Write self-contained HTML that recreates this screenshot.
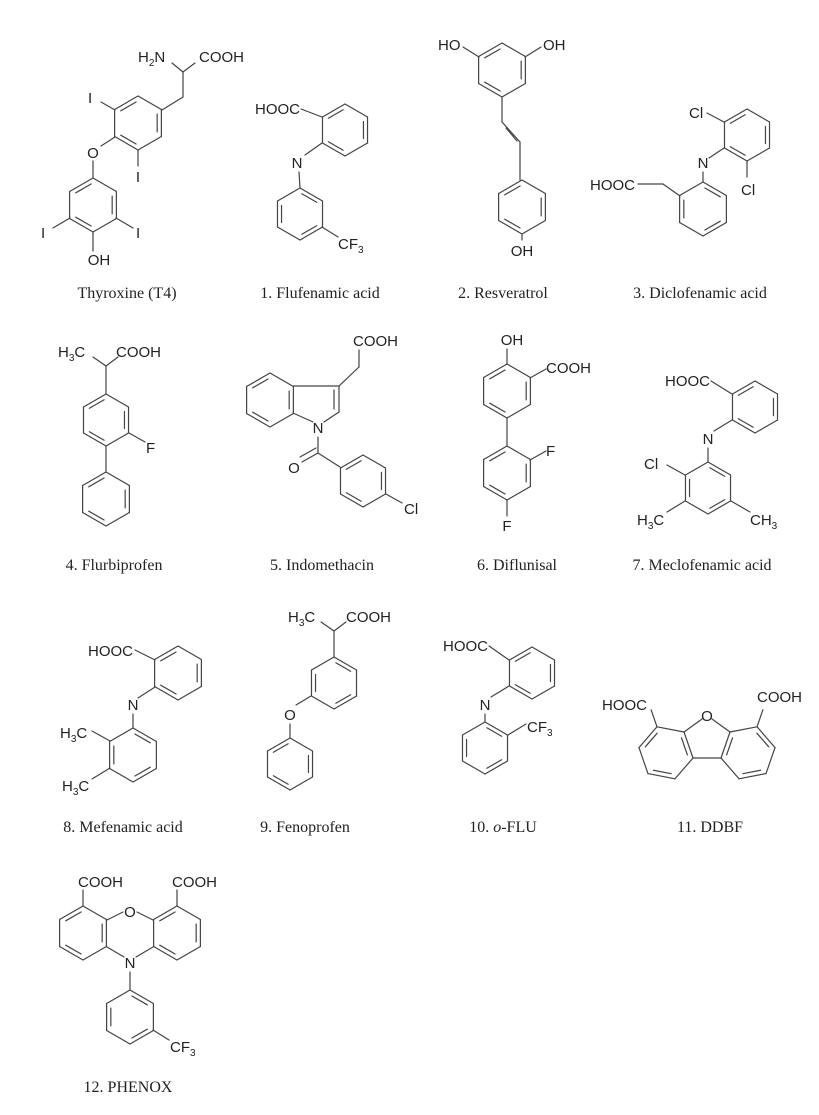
<!DOCTYPE html>
<html><head><meta charset="utf-8">
<style>
html,body{margin:0;padding:0;background:#fff;}
svg{display:block;}
.a{font-family:"Liberation Sans",Arial,sans-serif;font-size:15px;fill:#222;}
.l{font-family:"Liberation Serif","Times New Roman",serif;font-size:16px;fill:#222;}
</style></head>
<body>
<svg id="s" width="819" height="1115" viewBox="0 0 819 1115" xmlns="http://www.w3.org/2000/svg">
<g id="g" stroke="#444" stroke-width="1.2" fill="none" stroke-linecap="round"></g>
<g id="t"></g>
</svg>
<script>
var G="",T="";
function L(a,b,c,d){G+='<line x1="'+a+'" y1="'+b+'" x2="'+c+'" y2="'+d+'"/>';}
function inner(p1,p2,c){
  var q1=[c[0]+(p1[0]-c[0])*0.82,c[1]+(p1[1]-c[1])*0.82];
  var q2=[c[0]+(p2[0]-c[0])*0.82,c[1]+(p2[1]-c[1])*0.82];
  var r1=[q1[0]+(q2[0]-q1[0])*0.1,q1[1]+(q2[1]-q1[1])*0.1];
  var r2=[q2[0]+(q1[0]-q2[0])*0.1,q2[1]+(q1[1]-q2[1])*0.1];
  L(r1[0],r1[1],r2[0],r2[1]);
}
function poly(v,c,dbl,skip){
  skip=skip||[];
  for(var i=0;i<v.length;i++){var j=(i+1)%v.length;if(skip.indexOf(i)<0)L(v[i][0],v[i][1],v[j][0],v[j][1]);}
  dbl.forEach(function(i){inner(v[i],v[(i+1)%v.length],c);});
}
function hex(cx,cy,r,dbl,skip){
  var v=[];for(var i=0;i<6;i++){var a=(-90+60*i)*Math.PI/180;v.push([cx+r*Math.cos(a),cy+r*Math.sin(a)]);}
  poly(v,[cx,cy],dbl,skip);return v;
}
function S(n){return '<tspan font-size="10" dy="4">'+n+'</tspan><tspan dy="-4">';}
function A(x,y,s,anc){T+='<text class="a" x="'+x+'" y="'+y+'" text-anchor="'+(anc||'start')+'">'+s+'</text>';}
function Lb(x,y,s){T+='<text class="l" x="'+x+'" y="'+y+'" text-anchor="middle">'+s+'</text>';}
var H2N='H'+S(2)+'N</tspan>', H3C='H'+S(3)+'C</tspan>', CH3='CH'+S(3)+'</tspan>', CF3='CF'+S(3)+'</tspan>';

hex(138,123,27,[5,1,3]);
L(162,110,183,97);L(183,97,183,72);L(183,72,172,63);L(183,72,195,63);
A(138,62,H2N);A(199,62,'COOH');
L(115,110,101,102);A(88,103,'I');
L(138,150,138,166);A(138,182,'I','middle');
L(115,137,101,146);A(93,158,'O','middle');L(93,161,93,178);
hex(93,205,27,[5,1,3]);
L(70,218,53,228);A(41,238,'I');
L(116,218,133,228);A(136,238,'I');
L(93,232,93,251);A(99,265,'OH','middle');
Lb(127,298,'Thyroxine (T4)');

hex(345,130,26,[5,1,3]);
A(255,114,'HOOC');L(301,109,322,117);
L(322,143,305,155);A(297,168,'N','middle');
L(299,172,300,188);
hex(300,214,26,[4,0,2]);
L(322,227,338,237);A(338,249,CF3);
Lb(320,298,'1. Flufenamic acid');

hex(502,70,27,[5,1,3]);
L(479,57,463,47);A(438,50,'HO');
L(525,57,541,47);A(543,50,'OH');
L(502,97,502,122);L(502,122,520,142);L(506,128,517,141);L(520,142,520,180);
hex(522,207,27,[5,1,3]);
L(522,234,522,240);A(522,256,'OH','middle');
Lb(503,298,'2. Resveratrol');

hex(747,135,26,[5,1,3]);
L(724,122,707,113);A(689,118,'Cl');
L(747,161,747,177);A(741,195,'Cl');
L(724,148,709,158);A(703,168,'N','middle');
L(703,172,703,182);
hex(703,209,27,[4,0,2]);
A(590,190,'HOOC');L(638,184,663,184);L(663,184,680,196);
Lb(700,298,'3. Diclofenamic acid');

hex(106,420,26,[5,1,3]);
L(106,394,106,366);L(106,366,93,357);L(106,366,118,357);
A(58,357,H3C);A(116,357,'COOH');
L(129,433,145,442);A(146,453,'F');
L(106,446,106,472);
hex(106,499,27,[5,1,3]);
Lb(114,570,'4. Flurbiprofen');

hex(270,400,27,[5,1,3]);
L(293,386,339,386);L(339,386,339,412);L(334,390,334,409);L(339,412,324,422);L(313,422,293,413);
A(318,433,'N','middle');
L(339,386,359,367);L(359,367,359,350);A(353,346,'COOH');
L(318,437,318,453);L(318,453,302,462);L(316,448,300,457);A(294,473,'O','middle');
L(318,453,340,467);
hex(363,481,26,[5,1,3]);
L(386,494,402,503);A(404,514,'Cl');
Lb(322,570,'5. Indomethacin');

hex(507,391,27,[5,1,3]);
L(507,364,507,349);A(512,345,'OH','middle');
L(530,378,546,369);A(546,373,'COOH');
L(507,418,507,446);
hex(507,473,27,[5,1,3]);
L(530,460,546,451);A(546,456,'F');
L(507,500,507,516);A(507,531,'F','middle');
Lb(517,570,'6. Diflunisal');

hex(755,407,26,[5,1,3]);
A(665,386,'HOOC');L(711,381,732,394);
L(732,420,714,431);A(708,444,'N','middle');
L(708,448,708,462);
hex(708,488,26,[4,0,2]);
L(685,475,667,465);A(644,469,'Cl');
L(685,501,667,512);A(637,525,H3C);
L(731,501,750,512);A(750,525,CH3);
Lb(702,570,'7. Meclofenamic acid');

hex(178,673,27,[5,1,3]);
A(88,656,'HOOC');L(135,650,155,660);
L(155,687,138,698);A(133,710,'N','middle');
L(133,714,133,728);
hex(133,755,27,[4,0,2]);
L(110,741,92,731);A(60,738,H3C);
L(110,768,92,779);A(62,791,H3C);
Lb(123,832,'8. Mefenamic acid');

hex(334,683,26,[4,0,2]);
L(334,657,334,631);L(334,631,321,622);L(334,631,346,622);
A(288,622,H3C);A(346,622,'COOH');
L(311,696,296,705);A(290,720,'O','middle');L(290,724,290,738);
hex(290,764,26,[5,1,3]);
Lb(305,832,'9. Fenoprofen');

hex(532,673,26,[5,1,3]);
A(443,651,'HOOC');L(489,646,509,660);
L(509,686,491,697);A(485,710,'N','middle');
L(485,714,485,722);
hex(485,748,26,[4,0,2]);
L(508,735,526,724);A(527,732,CF3);
Lb(503,832,'10. <tspan font-style="italic">o</tspan>-FLU');

(function(){
 var O=[707,715],pl1=[684,732],pl2=[693,758],pr2=[721,758],pr1=[730,732];
 L(O[0]-5,O[1]+4,pl1[0],pl1[1]);L(O[0]+5,O[1]+4,pr1[0],pr1[1]);L(pl2[0],pl2[1],pr2[0],pr2[1]);
 A(707,721,'O','middle');
 function hx(p1,p2,sign){
   var v=[p1,p2],d=[p2[0]-p1[0],p2[1]-p1[1]];
   for(var k=0;k<4;k++){var a=sign*60*Math.PI/180;var nd=[d[0]*Math.cos(a)-d[1]*Math.sin(a),d[0]*Math.sin(a)+d[1]*Math.cos(a)];d=nd;var p=v[v.length-1];v.push([p[0]+d[0],p[1]+d[1]]);}
   var c=[0,0];v.forEach(function(p){c[0]+=p[0]/6;c[1]+=p[1]/6;});return {v:v,c:c};
 }
 var Lr=hx(pl1,pl2,1), Rr=hx(pr1,pr2,-1);
 poly(Lr.v,Lr.c,[0,2,4]);poly(Rr.v,Rr.c,[0,2,4]);
 [Lr,Rr].forEach(function(o){
   var v=o.v[5],c=o.c;var dx=v[0]-c[0],dy=v[1]-c[1],n=Math.hypot(dx,dy);
   L(v[0],v[1],v[0]+dx/n*18,v[1]+dy/n*18);
 });
 A(602,710,'HOOC');A(757,702,'COOH');
})();
Lb(710,832,'11. DDBF');

hex(83,933,27,[5,1,3]);
hex(177,933,27,[5,1,3]);
L(107,920,123,912);L(137,912,153,920);A(130,917,'O','middle');
L(107,947,124,957);L(136,957,153,947);A(130,968,'N','middle');
L(83,906,83,890);A(78,887,'COOH');
L(177,906,177,890);A(172,887,'COOH');
L(130,972,130,990);
hex(130,1017,27,[4,0,2]);
L(153,1030,169,1040);A(170,1052,CF3);
Lb(128,1092,'12. PHENOX');

document.getElementById('g').innerHTML=G;
document.getElementById('t').innerHTML=T;
</script>
</body></html>
